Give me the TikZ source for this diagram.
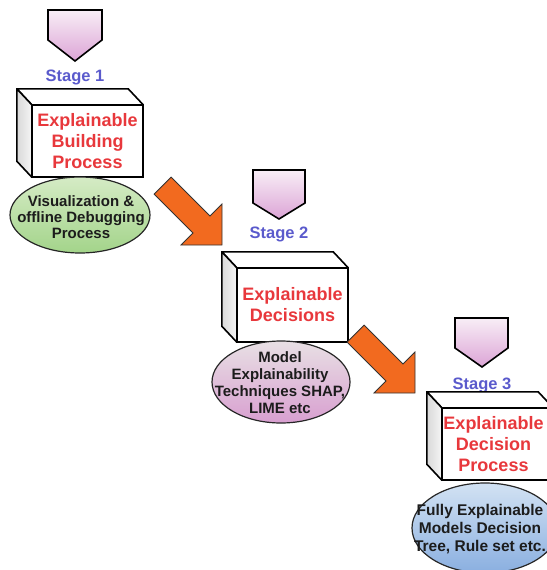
\documentclass[tikz,border=0pt]{standalone}
\usepackage{fontspec}
\setmainfont{Liberation Sans}
\usetikzlibrary{shapes.geometric}

\definecolor{boxred}{HTML}{E8383C}
\definecolor{stageblue}{HTML}{5A5ACC}
\definecolor{flowor}{HTML}{F26A1F}
\definecolor{penttop}{HTML}{F8EEF6}
\definecolor{pentbot}{HTML}{DCA4D6}
\definecolor{greentop}{HTML}{D5EBC5}
\definecolor{greenbot}{HTML}{A3D48A}
\definecolor{pinktop}{HTML}{E8E0E4}
\definecolor{pinkbot}{HTML}{D89FD0}
\definecolor{bluetop}{HTML}{D2E2F3}
\definecolor{bluebot}{HTML}{8AAFE0}
\definecolor{inktext}{HTML}{1C1C1C}

\tikzset{
  x=1pt, y=-1pt,
  pentagon/.style={draw=black, line width=1.6pt, line join=miter,
    top color=penttop, bottom color=pentbot},
  stagelabel/.style={text=stageblue, font=\bfseries\fontsize{16.5}{18}\selectfont, inner sep=0pt},
  frontgeom/.style={rectangle, minimum width=111pt, inner sep=0pt},
  front/.style={frontgeom, draw=black, line width=1.6pt, fill=white},
  boxtext/.style={align=center, inner sep=0pt, text=boxred,
    font=\bfseries\fontsize{18}{21}\selectfont},
  topface/.style={draw=black, line width=1.6pt, line join=round, fill=white},
  sideface/.style={draw=black, line width=1.6pt, line join=round,
    left color=gray!30, right color=gray!8},
  bubble/.style={ellipse, draw=black!85, line width=1.2pt, inner sep=0pt},
  bubbletext/.style={align=center, inner sep=0pt, text=inktext,
    font=\bfseries\fontsize{15}{17}\selectfont},
  arrowbody/.style={draw=black!80, line width=0.8pt, fill=flowor, line join=miter},
  bigarrow/.pic={
    \path[arrowbody] (-84,12) -- (-29,12) -- (-29,29) -- (0,0)
      -- (-29,-29) -- (-29,-12) -- (-84,-12) -- cycle;
  }
}

% top and left faces of a box whose front face is the node #1
\newcommand{\cubefaces}[1]{%
  \path[topface] (#1.north west) -- ++(-15,-16) -- ([shift={(-15,-16)}]#1.north east)
    -- (#1.north east) -- cycle;
  \path[sideface] (#1.north west) -- ++(-15,-16) -- ([shift={(-15,-16)}]#1.south west)
    -- (#1.south west) -- cycle;
}

\begin{document}
\begin{tikzpicture}
\useasboundingbox (0,0) rectangle (546,570);

% ---------- Stage 1 ----------
\path[pentagon] (48,10) -- (102,10) -- (102,40) -- (75,61) -- (48,40) -- cycle;
\node[stagelabel] (s1) at (75,77) {Stage 1};
\node[frontgeom, minimum height=72pt] (b1) at (87.5,141) {};
\cubefaces{b1}
\node[front, minimum height=72pt] (f1) at (b1.center) {};
\node[boxtext] (x1) at (f1.center) {Explainable\\Building\\Process};
\node[bubble, top color=greentop, bottom color=greenbot,
      minimum width=140pt, minimum height=76pt] (e1) at (80,215) {};
\node[bubbletext, font=\bfseries\fontsize{15}{16}\selectfont] (t1) at (81,217)
  {Visualization \&\\offline Debugging\\Process};

% ---------- Stage 2 ----------
\path[pentagon] (253,170) -- (305,170) -- (305,203) -- (279,219) -- (253,203) -- cycle;
\node[stagelabel] (s2) at (279,234) {Stage 2};
\node[frontgeom, minimum height=74pt] (b2) at (292.5,305) {};
\cubefaces{b2}
\node[front, minimum height=74pt] (f2) at (b2.center) {};
\node[boxtext] (x2) at (f2.center) {Explainable\\Decisions};
\node[bubble, top color=pinktop, bottom color=pinkbot,
      minimum width=138pt, minimum height=82pt] (e2) at (281,382) {};
\node[bubbletext] (t2) at (280,383)
  {Model\\Explainability\\Techniques SHAP,\\LIME etc};

% ---------- Stage 3 ----------
\path[pentagon] (455,318) -- (508,318) -- (508,348) -- (482,367) -- (455,348) -- cycle;
\node[stagelabel] (s3) at (482,385) {Stage 3};
\node[frontgeom, minimum height=72pt] (b3) at (497.5,444) {};
\cubefaces{b3}
\node[front, minimum height=72pt] (f3) at (b3.center) {};
\node[boxtext] (x3) at ([xshift=-4pt]f3.center) {Explainable\\Decision\\Process};
\node[bubble, top color=bluetop, bottom color=bluebot,
      minimum width=146pt, minimum height=90pt] (e3) at (485,528) {};
\node[bubbletext, font=\bfseries\fontsize{15.5}{18}\selectfont] (t3) at (480,529)
  {Fully Explainable\\Models Decision\\Tree, Rule set etc.};

% ---------- flow arrows between the stages ----------
\coordinate (a1) at (222,245);
\coordinate (a2) at (415,393);
\pic[rotate=-45] at (a1) {bigarrow};
\pic[rotate=-45] at (a2) {bigarrow};
\end{tikzpicture}
\end{document}
